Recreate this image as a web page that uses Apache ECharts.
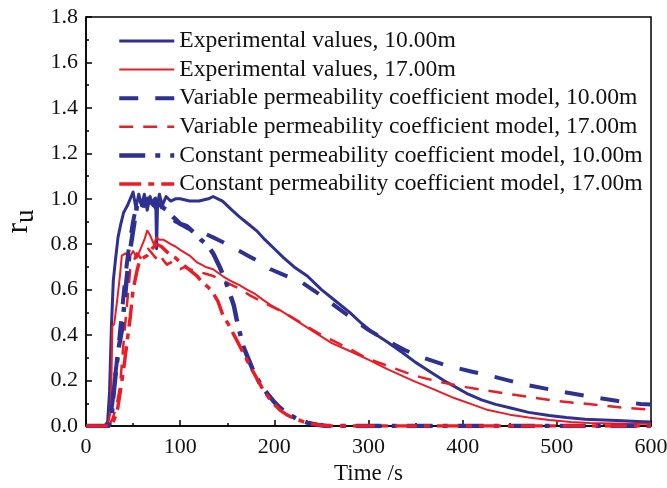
<!DOCTYPE html>
<html><head><meta charset="utf-8">
<script src="https://cdn.jsdelivr.net/npm/echarts@6/dist/echarts.min.js"></script>
<style>html,body{margin:0;padding:0;background:#fff}#c{width:667px;height:488px}</style>
</head><body><div id="c"></div>
<script>
var xTicks = [0,100,200,300,400,500,600];
var yTicks = [0.0,0.2,0.4,0.6,0.8,1.0,1.2,1.4,1.6,1.8];

var names = [
 'Experimental values, 10.00m',
 'Experimental values, 17.00m',
 'Variable permeability coefficient model, 10.00m',
 'Variable permeability coefficient model, 17.00m',
 'Constant permeability coefficient model, 10.00m',
 'Constant permeability coefficient model, 17.00m'
];

var expT10 = [0,20,23,25,27,29,31,34,37,40,44,48,50,53,56,59,62,65,68,71,74,75,76,78,81,85,90,95,100,110,120,130,135,140,145,150,155,163,172,181,190,200,210,221,235,250,265,280,293,305,320,337,350,365,380,393,406,420,435,450,470,492,510,530,550,570,585,600];
var expR10 = [0,0,0.02,0.15,0.44,0.64,0.72,0.83,0.89,0.94,0.97,1.01,1.03,0.96,1.02,0.97,1.02,0.95,1.01,0.97,1.0,0.78,0.98,1.02,0.97,1.01,0.99,1.0,1.0,0.99,0.99,1.0,1.01,1.0,0.99,0.97,0.95,0.92,0.89,0.86,0.82,0.78,0.74,0.70,0.66,0.60,0.55,0.50,0.45,0.41,0.37,0.32,0.28,0.24,0.20,0.17,0.14,0.115,0.095,0.08,0.06,0.046,0.037,0.03,0.026,0.023,0.02,0.018];

var expT17 = [0,22,24,26,27,28,30,33,36,38,42,46,50,54,58,62,65,68,72,75,78,82,86,90,95,100,110,118,127,135,145,153,163,171,180,188,197,206,221,240,261,280,301,320,347,370,391,410,427,450,470,492,515,535,560,580,600];
var expR17 = [0,0,0.02,0.06,0.2,0.44,0.45,0.55,0.66,0.75,0.76,0.74,0.77,0.74,0.78,0.82,0.86,0.84,0.80,0.83,0.82,0.82,0.81,0.80,0.79,0.775,0.75,0.72,0.70,0.69,0.66,0.64,0.62,0.60,0.58,0.555,0.53,0.51,0.47,0.42,0.365,0.33,0.29,0.25,0.20,0.16,0.123,0.095,0.07,0.05,0.037,0.026,0.018,0.013,0.011,0.01,0.01];

var varT10 = [0,22,25,28,31,34,37,40,43,46,50,53,57,60,63,66,70,74,78,82,86,90,95,100,108,118,127,135,145,153,163,174,185,196,210,228,246,264,282,301,320,338,355,380,409,435,463,500,535,565,589,600];
var varR10 = [0,0,0.02,0.1,0.22,0.33,0.45,0.58,0.7,0.8,0.9,0.96,1.0,0.97,1.0,0.95,0.99,0.96,0.98,0.95,0.94,0.92,0.90,0.89,0.87,0.86,0.845,0.83,0.81,0.79,0.77,0.745,0.72,0.69,0.665,0.635,0.585,0.53,0.475,0.42,0.375,0.335,0.305,0.27,0.24,0.215,0.185,0.155,0.13,0.11,0.097,0.095];

var varT17 = [0,24,28,32,36,41,47,50,54,58,62,66,70,74,78,82,86,90,95,100,105,110,118,127,135,145,155,165,174,190,210,228,246,265,282,297,320,340,355,380,405,427,450,475,499,525,550,571,590,600];
var varR17 = [0,0,0.03,0.08,0.17,0.42,0.69,0.72,0.76,0.74,0.76,0.78,0.76,0.74,0.76,0.73,0.71,0.72,0.70,0.69,0.70,0.69,0.68,0.67,0.66,0.64,0.62,0.60,0.575,0.54,0.50,0.455,0.41,0.37,0.335,0.30,0.265,0.235,0.215,0.19,0.17,0.155,0.14,0.125,0.11,0.10,0.09,0.08,0.075,0.073];

var conT10 = [0,24,27,29,32,35,38,41,43,46,50,53,55,58,62,66,70,74,78,82,86,90,95,100,107,115,122,128,135,142,148,153,157,160,164,167,172,178,185,192,200,206,212,218,225,235,246,255,265,280,300,350,400,450,500,550,600];
var conR10 = [0,0,0.03,0.13,0.25,0.35,0.42,0.55,0.64,0.75,0.86,0.94,0.99,1.0,0.97,1.0,0.98,1.0,0.99,0.96,0.95,0.93,0.91,0.89,0.88,0.85,0.82,0.80,0.76,0.70,0.64,0.58,0.53,0.47,0.40,0.35,0.30,0.24,0.185,0.145,0.105,0.08,0.06,0.045,0.03,0.015,0.005,0,0,0,0,0,0,0,0,0,0];

var conT17 = [0,25,29,33,36,40,43,47,50,54,57,61,65,70,75,80,85,90,95,100,106,112,118,124,130,135,140,146,151,156,161,166,171,176,182,188,194,200,206,213,220,230,240,250,260,300,350,400,450,500,550,600];
var conR17 = [0,0,0.02,0.06,0.14,0.25,0.35,0.48,0.60,0.68,0.73,0.74,0.75,0.78,0.80,0.79,0.77,0.75,0.74,0.72,0.70,0.68,0.66,0.63,0.61,0.585,0.55,0.48,0.45,0.41,0.37,0.33,0.29,0.25,0.205,0.16,0.125,0.095,0.07,0.05,0.035,0.02,0.01,0.003,0,0,0,0,0,0,0,0];

function zip(t, r){ return t.map(function(v,i){ return [v, r[i]]; }); }

var BLUE = '#2E3192', RED = '#ED1C24';
var FONT = '"Liberation Serif","Times New Roman",serif';

var seriesDefs = [
  {t: expT10, r: expR10, color: BLUE, width: 3, type: 'solid'},
  {t: expT17, r: expR17, color: RED, width: 2, type: 'solid'},
  {t: varT10, r: varR10, color: BLUE, width: 4, type: [19,17]},
  {t: varT17, r: varR17, color: RED, width: 2.5, type: [14,10]},
  {t: conT10, r: conR10, color: BLUE, width: 4.5, type: [26,10,5,10]},
  {t: conT17, r: conR17, color: RED, width: 3.5, type: [22,7,6,7]}
];

var chart = echarts.init(document.getElementById('c'), null, {renderer: 'canvas'});
chart.setOption({
  animation: false,
  backgroundColor: '#fff',
  grid: {left: 86, right: 16, top: 17, bottom: 62, show: true, borderColor: '#000', borderWidth: 1.5,
         containLabel: false, outerBoundsMode: 'none'},
  legend: {
    orient: 'vertical', left: 112, top: 24, itemWidth: 55, itemHeight: 14, itemGap: 4.6,
    itemStyle: {opacity: 0},
    lineStyle: {width: 'inherit', type: 'inherit'},
    textStyle: {fontFamily: FONT, fontSize: 23.6, color: '#111', lineHeight: 24},
    data: names
  },
  xAxis: {
    type: 'value', min: 0, max: 600, interval: 100,
    name: 'Time /s', nameLocation: 'middle', nameGap: 34,
    nameTextStyle: {fontFamily: FONT, fontSize: 23, color: '#111'},
    axisLine: {show: true, lineStyle: {color: '#000', width: 1.5}},
    axisTick: {show: true, inside: true, length: 6, lineStyle: {color: '#000', width: 1.5}},
    minorTick: {show: true, splitNumber: 2, length: 3, lineStyle: {color: '#000', width: 1.5}},
    splitLine: {show: false},
    axisLabel: {fontFamily: FONT, fontSize: 22, color: '#111', margin: 10,
      formatter: function(v){ return xTicks.indexOf(v) >= 0 ? String(v) : ''; }}
  },
  yAxis: {
    type: 'value', min: 0, max: 1.8, interval: 0.2,
    name: '{r|r}{u|u}', nameLocation: 'middle', nameGap: 42, nameRotate: 90,
    nameTextStyle: {fontFamily: FONT, color: '#111',
      rich: {r: {fontFamily: FONT, fontSize: 32, color: '#111'},
             u: {fontFamily: FONT, fontSize: 27, color: '#111', padding: [16,0,0,0], verticalAlign: 'bottom'}}},
    axisLine: {show: true, lineStyle: {color: '#000', width: 1.5}},
    axisTick: {show: true, inside: true, length: 6, lineStyle: {color: '#000', width: 1.5}},
    minorTick: {show: true, splitNumber: 2, length: 3, lineStyle: {color: '#000', width: 1.5}},
    splitLine: {show: false},
    axisLabel: {fontFamily: FONT, fontSize: 22, color: '#111', margin: 8,
      formatter: function(v){ return v.toFixed(1); }}
  },
  series: seriesDefs.map(function(d, i){
    return {
      name: names[i], type: 'line', data: zip(d.t, d.r), symbol: 'none', smooth: false,
      lineStyle: {color: d.color, width: d.width, type: d.type, cap: 'butt', join: 'round'},
      itemStyle: {color: d.color}, z: 2 + i
    };
  })
});
</script></body></html>
